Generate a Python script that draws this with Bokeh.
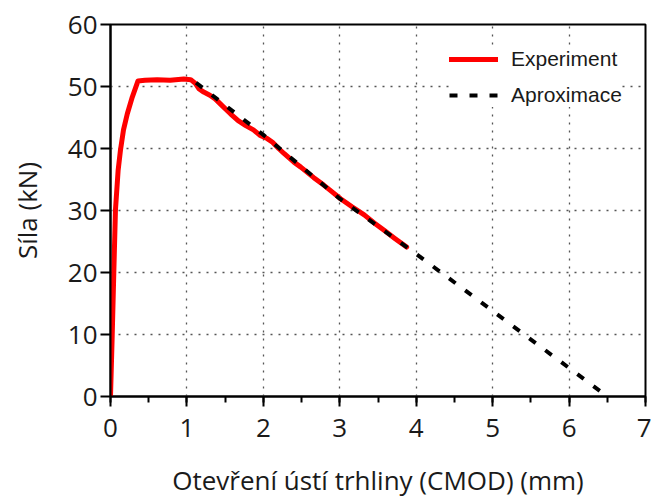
from bokeh.plotting import figure
from bokeh.models import SingleIntervalTicker, Range1d, Legend, LegendItem
from bokeh.embed import file_html
from bokeh.resources import INLINE

# Measured load vs. crack mouth opening (CMOD)
exp_cmod = [0.0, 0.022, 0.043, 0.065, 0.10, 0.13, 0.17, 0.22, 0.285, 0.36, 0.45,
            0.61, 0.78, 0.96, 1.05, 1.11, 1.16, 1.22, 1.30, 1.37, 1.47, 1.57,
            1.67, 1.77, 1.87, 1.96, 2.05, 2.12, 2.20, 2.27, 2.40, 2.49, 2.66,
            2.79, 2.90, 3.01, 3.16, 3.32, 3.45, 3.58, 3.72, 3.875]
exp_force = [0.0, 9.7, 19.9, 30.1, 36.5, 39.7, 43.0, 45.6, 48.3, 50.9, 51.0,
             51.1, 51.0, 51.2, 51.1, 50.5, 49.6, 49.1, 48.6, 48.0, 46.8, 45.6,
             44.5, 43.7, 43.0, 42.1, 41.6, 41.0, 40.0, 39.2, 37.8, 37.0, 35.3,
             34.1, 33.0, 31.9, 30.6, 29.3, 28.0, 26.8, 25.5, 24.1]

# Linear softening approximation of the post-peak branch
apx_cmod = [1.12, 2.0, 3.0, 4.0, 6.5]
apx_force = [50.6, 42.2, 31.9, 23.0, 0.0]

x_ticks = [0, 1, 2, 3, 4, 5, 6, 7]
y_ticks = [0, 10, 20, 30, 40, 50, 60]

TICK_FONT = "Open Sans"
LEGEND_FONT = "Liberation Sans"

p = figure(width=651, height=500, output_backend="svg", toolbar_location=None,
           x_range=Range1d(0, 7), y_range=Range1d(0, 60))
p.min_border_left = 110
p.min_border_right = 6
p.min_border_top = 24
p.min_border_bottom = 103
p.background_fill_color = "white"
p.border_fill_color = "white"
p.outline_line_color = "black"
p.outline_line_width = 2

p.xaxis.ticker = SingleIntervalTicker(interval=1, num_minor_ticks=2)
p.yaxis.ticker = SingleIntervalTicker(interval=10, num_minor_ticks=0)

for ax in (p.xaxis[0], p.yaxis[0]):
    ax.axis_line_color = "black"
    ax.axis_line_width = 2
    ax.major_tick_line_color = "black"
    ax.major_tick_line_width = 2
    ax.major_tick_out = 10
    ax.major_tick_in = 0
    ax.minor_tick_line_color = "black"
    ax.minor_tick_line_width = 2
    ax.minor_tick_out = 6
    ax.minor_tick_in = 0
    ax.major_label_text_font = TICK_FONT
    ax.major_label_text_font_size = "26px"
    ax.major_label_text_color = "#1a1a1a"
    ax.axis_label_text_font = TICK_FONT
    ax.axis_label_text_font_size = "26px"
    ax.axis_label_text_font_style = "normal"
    ax.axis_label_text_color = "#1a1a1a"

p.xaxis.axis_label = "Otevření ústí trhliny (CMOD) (mm)"
p.yaxis.axis_label = "Síla (kN)"
p.xaxis.major_label_standoff = 12
p.yaxis.major_label_standoff = 3
p.xaxis.axis_label_standoff = 22
p.yaxis.axis_label_standoff = 20

for g in (p.xgrid[0], p.ygrid[0]):
    g.grid_line_color = "#555555"
    g.grid_line_width = 1.3
    g.grid_line_dash = "2 6"

r_exp = p.line(exp_cmod, exp_force, line_color="#ff0000", line_width=5,
               line_join="round", line_cap="round")
r_apx = p.line(apx_cmod, apx_force, line_color="black", line_width=4,
               line_dash="8 12")

legend = Legend(items=[LegendItem(label="Experiment", renderers=[r_exp]),
                       LegendItem(label="Aproximace", renderers=[r_apx])],
                location=(339, 289))
legend.label_text_font = LEGEND_FONT
legend.label_text_font_size = "21px"
legend.label_text_color = "#1a1a1a"
legend.glyph_width = 49
legend.glyph_height = 24
legend.label_height = 24
legend.label_standoff = 13
legend.spacing = 12
legend.margin = 0
legend.padding = 11
legend.border_line_color = None
legend.background_fill_color = "white"
legend.background_fill_alpha = 1.0
p.add_layout(legend)

open("out.html", "w").write(file_html(p, INLINE))
